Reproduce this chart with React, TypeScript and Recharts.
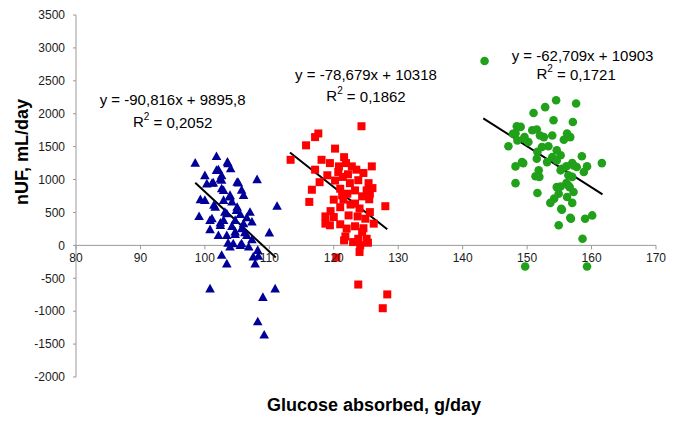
import React from "react";
import {
  ReferenceDot,
  ReferenceLine,
  Scatter,
  ScatterChart,
  XAxis,
  YAxis,
} from "recharts";

type Pt = { x: number; y: number };

const xTicks = [80, 90, 100, 110, 120, 130, 140, 150, 160, 170];
const yTicks = [-2000, -1500, -1000, -500, 0, 500, 1000, 1500, 2000, 2500, 3000, 3500];

const blueData: Pt[] = [
  { x: 101.8, y: 1350 }, { x: 98.5, y: 1250 }, { x: 103.5, y: 1265 }, { x: 104.0, y: 1165 },
  { x: 102.1, y: 1150 }, { x: 100.0, y: 1060 }, { x: 102.6, y: 1060 }, { x: 108.1, y: 1000 },
  { x: 100.3, y: 935 }, { x: 101.3, y: 950 }, { x: 102.6, y: 990 }, { x: 105.2, y: 950 },
  { x: 102.9, y: 835 }, { x: 105.7, y: 840 }, { x: 106.0, y: 760 }, { x: 103.9, y: 760 },
  { x: 99.3, y: 695 }, { x: 104.2, y: 660 }, { x: 101.4, y: 610 }, { x: 111.2, y: 595 },
  { x: 104.9, y: 530 }, { x: 103.1, y: 505 }, { x: 99.1, y: 440 }, { x: 105.5, y: 470 },
  { x: 106.5, y: 420 }, { x: 100.8, y: 380 }, { x: 102.9, y: 380 }, { x: 104.7, y: 380 },
  { x: 107.3, y: 355 }, { x: 102.4, y: 305 }, { x: 104.2, y: 290 }, { x: 100.8, y: 240 },
  { x: 105.7, y: 255 }, { x: 110.0, y: 190 }, { x: 102.1, y: 150 }, { x: 104.7, y: 165 },
  { x: 106.5, y: 150 }, { x: 107.3, y: 85 }, { x: 103.6, y: 35 }, { x: 105.5, y: 0 },
  { x: 103.9, y: -25 }, { x: 106.8, y: -25 }, { x: 108.2, y: -75 }, { x: 102.6, y: -150 },
  { x: 107.5, y: -175 }, { x: 103.4, y: -280 }, { x: 107.8, y: -280 }, { x: 100.8, y: -660 },
  { x: 110.9, y: -660 }, { x: 109.0, y: -790 }, { x: 108.2, y: -1160 }, { x: 109.2, y: -1360 },
  { x: 103.6, y: 1240 }, { x: 101.8, y: 1140 }, { x: 102.4, y: 1010 }, { x: 101.1, y: 945 },
  { x: 105.0, y: 960 }, { x: 102.6, y: 860 }, { x: 103.9, y: 735 }, { x: 100.0, y: 685 },
  { x: 102.9, y: 685 }, { x: 101.6, y: 580 }, { x: 105.0, y: 580 }, { x: 103.4, y: 480 },
  { x: 107.0, y: 505 }, { x: 101.1, y: 405 }, { x: 102.4, y: 340 }, { x: 106.0, y: 330 },
  { x: 104.7, y: 205 }, { x: 106.2, y: 195 }, { x: 103.4, y: 150 }, { x: 104.4, y: 25 },
  { x: 105.7, y: 25 }, { x: 108.3, y: -165 },
];

const redData: Pt[] = [
  { x: 124.3, y: 1810 }, { x: 117.6, y: 1700 }, { x: 117.1, y: 1645 }, { x: 115.7, y: 1520 },
  { x: 120.2, y: 1470 }, { x: 113.3, y: 1300 }, { x: 118.1, y: 1300 }, { x: 121.6, y: 1340 },
  { x: 119.4, y: 1250 }, { x: 121.9, y: 1250 }, { x: 125.9, y: 1200 }, { x: 123.5, y: 1150 },
  { x: 117.1, y: 1150 }, { x: 120.7, y: 1115 }, { x: 119.0, y: 1065 }, { x: 121.4, y: 1040 },
  { x: 123.8, y: 990 }, { x: 122.5, y: 945 }, { x: 125.4, y: 945 }, { x: 117.8, y: 960 },
  { x: 121.0, y: 860 }, { x: 123.3, y: 835 }, { x: 116.6, y: 845 }, { x: 125.1, y: 835 },
  { x: 122.1, y: 785 }, { x: 124.4, y: 745 }, { x: 120.0, y: 695 }, { x: 121.5, y: 695 },
  { x: 116.2, y: 660 }, { x: 123.3, y: 635 }, { x: 128.0, y: 595 }, { x: 121.0, y: 580 },
  { x: 125.6, y: 505 }, { x: 118.7, y: 440 }, { x: 122.3, y: 455 }, { x: 120.0, y: 430 },
  { x: 123.7, y: 440 }, { x: 124.9, y: 405 }, { x: 121.0, y: 320 }, { x: 118.7, y: 330 },
  { x: 123.3, y: 290 }, { x: 122.0, y: 255 }, { x: 124.4, y: 205 }, { x: 121.8, y: 135 },
  { x: 123.8, y: 100 }, { x: 125.1, y: 100 }, { x: 124.1, y: 0 }, { x: 119.4, y: 305 },
  { x: 120.2, y: 985 }, { x: 125.6, y: 785 }, { x: 120.4, y: -185 }, { x: 124.0, y: -100 },
  { x: 125.3, y: 40 }, { x: 121.6, y: 75 }, { x: 123.8, y: -595 }, { x: 128.3, y: -745 },
  { x: 127.6, y: -955 }, { x: 122.8, y: 1200 }, { x: 124.6, y: 1100 }, { x: 122.2, y: 1080 },
  { x: 126.0, y: 870 }, { x: 124.0, y: 560 }, { x: 122.6, y: 620 }, { x: 125.5, y: 700 },
  { x: 119.5, y: 520 }, { x: 126.2, y: 330 }, { x: 124.6, y: 260 }, { x: 123.0, y: 50 },
  { x: 120.8, y: 1200 }, { x: 121.3, y: 760 },
];

const greenData: Pt[] = [
  { x: 143.4, y: 2800 }, { x: 154.5, y: 2205 }, { x: 157.6, y: 2155 }, { x: 152.8, y: 2100 },
  { x: 151.0, y: 2010 }, { x: 154.1, y: 1900 }, { x: 157.1, y: 1875 }, { x: 148.4, y: 1810 },
  { x: 149.0, y: 1800 }, { x: 148.2, y: 1705 }, { x: 150.8, y: 1750 }, { x: 151.5, y: 1760 },
  { x: 152.6, y: 1645 }, { x: 153.9, y: 1670 }, { x: 156.2, y: 1700 }, { x: 156.7, y: 1645 },
  { x: 155.7, y: 1605 }, { x: 149.6, y: 1645 }, { x: 150.2, y: 1570 }, { x: 147.1, y: 1505 },
  { x: 152.3, y: 1495 }, { x: 153.3, y: 1505 }, { x: 154.6, y: 1445 }, { x: 151.6, y: 1420 },
  { x: 155.2, y: 1370 }, { x: 153.9, y: 1340 }, { x: 151.5, y: 1315 }, { x: 158.5, y: 1355 },
  { x: 154.6, y: 1290 }, { x: 153.1, y: 1265 }, { x: 157.0, y: 1250 }, { x: 148.2, y: 1200 },
  { x: 149.4, y: 1250 }, { x: 156.1, y: 1200 }, { x: 157.7, y: 1190 }, { x: 159.3, y: 1200 },
  { x: 161.6, y: 1250 }, { x: 155.4, y: 1165 }, { x: 158.8, y: 1115 }, { x: 151.3, y: 1050 },
  { x: 157.0, y: 1040 }, { x: 148.2, y: 945 }, { x: 156.1, y: 945 }, { x: 156.6, y: 885 },
  { x: 154.6, y: 885 }, { x: 151.6, y: 795 }, { x: 154.9, y: 785 }, { x: 157.2, y: 810 },
  { x: 156.2, y: 735 }, { x: 154.2, y: 710 }, { x: 153.6, y: 645 }, { x: 157.0, y: 645 },
  { x: 155.4, y: 540 }, { x: 160.1, y: 455 }, { x: 159.0, y: 405 }, { x: 156.8, y: 405 },
  { x: 154.9, y: 305 }, { x: 158.6, y: 100 }, { x: 149.7, y: -320 }, { x: 159.3, y: -320 },
  { x: 147.8, y: 1695 }, { x: 152.0, y: 1670 }, { x: 149.5, y: 1620 }, { x: 148.5, y: 1595 },
  { x: 149.2, y: 1265 }, { x: 151.8, y: 1140 }, { x: 157.2, y: 1215 }, { x: 155.2, y: 1140 },
  { x: 151.9, y: 1040 }, { x: 156.4, y: 1065 }, { x: 155.2, y: 895 }, { x: 156.4, y: 910 },
  { x: 155.3, y: 555 }, { x: 156.7, y: 420 },
];

// trend line end points
const blueFit: Pt[] = [{ x: 98.5, y: 950 }, { x: 111, y: -185 }];
const redFit: Pt[] = [{ x: 113.2, y: 1410 }, { x: 128.3, y: 245 }];
const greenFit: Pt[] = [{ x: 143.2, y: 1930 }, { x: 161.7, y: 775 }];

const equations = [
  { x: 95, y: 2210, text: "y = -90,816x + 9895,8" },
  { x: 125, y: 2600, text: "y = -78,679x + 10318" },
  { x: 158.6, y: 2890, text: "y = -62,709x + 10903" },
];
const rSquared = [
  { x: 95, y: 1880, value: "0,2052" },
  { x: 125, y: 2270, value: "0,1862" },
  { x: 157.6, y: 2610, value: "0,1721" },
];

const W = 677;
const H = 422;
const TOP = 15;
const BOTTOM = 45;
const PLOT_H = H - TOP - BOTTOM;
const ZERO_Y = TOP + (PLOT_H * 3500) / 5500;
const FONT = "'Liberation Sans', Arial, sans-serif";

const XTick = (props: any) => {
  const { x, payload } = props;
  return (
    <g>
      <line x1={x} x2={x} y1={ZERO_Y} y2={ZERO_Y + 4} stroke="#999" />
      <text x={x} y={ZERO_Y + 17} textAnchor="middle" fontSize={12} fill="#1a1a1a" fontFamily={FONT}>
        {payload.value}
      </text>
    </g>
  );
};

const Triangle = (props: any) => {
  const { cx, cy } = props;
  return <polygon points={`${cx},${cy - 5} ${cx - 4.8},${cy + 3.6} ${cx + 4.8},${cy + 3.6}`} fill="#000099" />;
};
const Square = (props: any) => {
  const { cx, cy } = props;
  return <rect x={cx - 4} y={cy - 4} width={8} height={8} fill="#ff0000" />;
};
const Dot = (props: any) => {
  const { cx, cy } = props;
  return <circle cx={cx} cy={cy} r={4.3} fill="#21a01a" />;
};

const EqLabel = ({ viewBox, text }: any) => (
  <text x={viewBox.x} y={viewBox.y} textAnchor="middle" dominantBaseline="central" fontSize={15} fill="#000" fontFamily={FONT}>
    {text}
  </text>
);

const R2Label = ({ viewBox, value }: any) => (
  <text x={viewBox.x} y={viewBox.y} textAnchor="middle" dominantBaseline="central" fontSize={15} fill="#000" fontFamily={FONT}>
    R<tspan fontSize={10} dy={-6}>2</tspan>
    <tspan dy={6}> = {value}</tspan>
  </text>
);

export default function App() {
  return (
    <div style={{ position: "fixed", left: 0, top: 0, width: W, height: H, background: "#fff" }}>
      <ScatterChart width={W} height={H} margin={{ top: TOP, right: 21, bottom: 0, left: 16 }}>
        <XAxis
          type="number"
          dataKey="x"
          domain={[80, 170]}
          ticks={xTicks}
          height={BOTTOM}
          axisLine={false}
          tickLine={false}
          tick={<XTick />}
          allowDataOverflow
          label={{
            content: () => (
              <text x={374} y={411} textAnchor="middle" fontSize={18} fontWeight="bold" fill="#000" fontFamily={FONT}>
                Glucose absorbed, g/day
              </text>
            ),
          }}
        />
        <YAxis
          type="number"
          dataKey="y"
          domain={[-2000, 3500]}
          ticks={yTicks}
          width={60}
          axisLine={{ stroke: "#999" }}
          tickLine={{ stroke: "#999" }}
          tickSize={3}
          tickMargin={8}
          tick={{ fontSize: 12, fill: "#1a1a1a", fontFamily: FONT }}
          allowDataOverflow
          label={{
            content: () => (
              <text
                x={28}
                y={152}
                transform="rotate(-90 28 152)"
                textAnchor="middle"
                fontSize={18}
                fontWeight="bold"
                fill="#000"
                fontFamily={FONT}
              >
                nUF, mL/day
              </text>
            ),
          }}
        />
        <ReferenceLine y={0} stroke="#999" />
        <Scatter data={blueData} shape={<Triangle />} isAnimationActive={false} />
        <Scatter data={redData} shape={<Square />} isAnimationActive={false} />
        <Scatter data={greenData} shape={<Dot />} isAnimationActive={false} />
        <ReferenceLine segment={blueFit} stroke="#000" strokeWidth={2} ifOverflow="visible" />
        <ReferenceLine segment={redFit} stroke="#000" strokeWidth={2} ifOverflow="visible" />
        <ReferenceLine segment={greenFit} stroke="#000" strokeWidth={2} ifOverflow="visible" />
        {equations.map((e) => (
          <ReferenceDot
            key={e.text}
            x={e.x}
            y={e.y}
            r={0}
            fill="none"
            stroke="none"
            label={<EqLabel text={e.text} />}
          />
        ))}
        {rSquared.map((e) => (
          <ReferenceDot
            key={e.value}
            x={e.x}
            y={e.y}
            r={0}
            fill="none"
            stroke="none"
            label={<R2Label value={e.value} />}
          />
        ))}
      </ScatterChart>
    </div>
  );
}
